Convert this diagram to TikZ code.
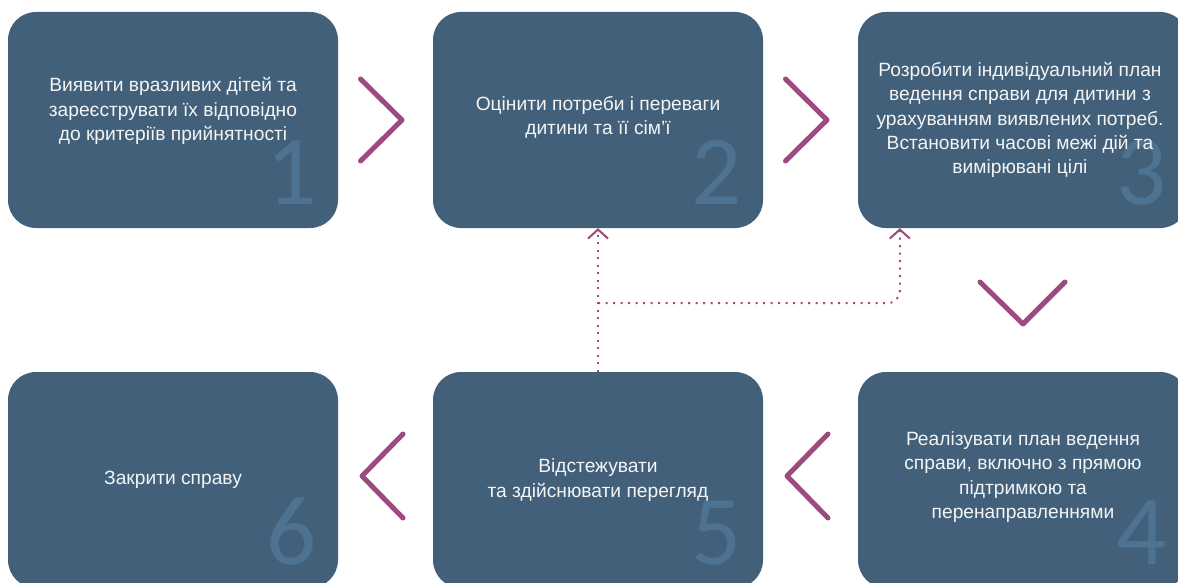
\documentclass[tikz,border=0pt]{standalone}
\usepackage{fontspec}
\setmainfont{Liberation Sans}
\newfontfamily\numfont{Carlito}
\usetikzlibrary{arrows.meta,calc}
\definecolor{boxblue}{HTML}{42607A}
\definecolor{numblue}{HTML}{4E7291}
\definecolor{plum}{HTML}{9C4A7F}
\definecolor{txtwhite}{HTML}{F4F4F4}
\begin{document}
\begin{tikzpicture}[x=1pt,y=-1pt,
  box/.style={rectangle, rounded corners=28pt, fill=boxblue, minimum width=330pt, minimum height=216pt, inner sep=0pt},
  txt/.style={text=txtwhite, align=center, font=\fontsize{19.2}{24.2}\selectfont, inner sep=0pt},
  num/.style={text=numblue, font=\numfont\fontsize{99}{99}\selectfont, anchor=base, inner sep=0pt, text depth=0pt},
  chev/.style={draw=plum, line width=5pt, line cap=round, line join=round},
  link/.style={draw=plum, line width=2pt, dash pattern=on 2pt off 5.5pt, -{Straight Barb[length=9pt,width=20pt]}}
]
\useasboundingbox (0,0) rectangle (1178,583);
\clip (0,0) rectangle (1178,583);
% boxes
\node[box] (b1) at (173,120) {};
\node[box] (b2) at (598,120) {};
\node[box] (b3) at (1023,120) {};
\node[box] (b6) at (173,480) {};
\node[box] (b5) at (598,480) {};
\node[box] (b4) at (1023,480) {};
% numbers
\node[num] (n1) at ($(b1.south east)+(-47,-24)$) {1};
\node[num] (n2) at ($(b2.south east)+(-47,-24)$) {2};
\node[num] (n3) at ($(b3.south east)+(-47,-24)$) {3};
\node[num] (n4) at ($(b4.south east)+(-47,-24)$) {4};
\node[num] (n5) at ($(b5.south east)+(-47,-24)$) {5};
\node[num] (n6) at ($(b6.south east)+(-47,-24)$) {6};
% texts
\node[txt] (t1) at ($(b1.center)+(0,-9)$) {Виявити вразливих дітей та\\зареєструвати їх відповідно\\до критеріїв прийнятності};
\node[txt] (t2) at ($(b2.center)+(0,-3)$) {Оцінити потреби і переваги\\дитини та її сім’ї};
\node[txt] (t3) at ($(b3.center)+(-3,0)$) {Розробити індивідуальний план\\ведення справи для дитини з\\урахуванням виявлених потреб.\\Встановити часові межі дій та\\вимірювані цілі};
\node[txt] (t4) at ($(b4.center)+(0,-3)$) {Реалізувати план ведення\\справи, включно з прямою\\підтримкою та\\перенаправленнями};
\node[txt] (t5) at ($(b5.center)+(0,0)$) {Відстежувати\\та здійснювати перегляд};
\node[txt] (t6) at ($(b6.center)+(0,0)$) {Закрити справу};
% chevrons
\coordinate (c12) at ($(b1.east)!0.5!(b2.west)$);
\coordinate (c23) at ($(b2.east)!0.5!(b3.west)$);
\coordinate (c34) at ($(b3.south)!0.5!(b4.north)$);
\coordinate (c45) at ($(b5.east)!0.5!(b4.west)$);
\coordinate (c56) at ($(b6.east)!0.5!(b5.west)$);
\draw[chev] ($(c12)+(-25,-41)$) -- ($(c12)+(16.5,0)$) -- ($(c12)+(-25,41)$);
\draw[chev] ($(c23)+(-25,-41)$) -- ($(c23)+(16.5,0)$) -- ($(c23)+(-25,41)$);
\draw[chev] ($(c34)+(-43,-18)$) -- ($(c34)+(0,24)$) -- ($(c34)+(42,-18)$);
\draw[chev] ($(c45)+(17.5,-46)$) -- ($(c45)+(-23.5,-4)$) -- ($(c45)+(17.5,38)$);
\draw[chev] ($(c56)+(17.5,-46)$) -- ($(c56)+(-23.5,-4)$) -- ($(c56)+(17.5,38)$);
% dotted links
\coordinate (j) at ($(b2.south)+(0,75)$);
\coordinate (a3) at ($(b3.south west)+(42,0)$);
\draw[link] (b5.north) -- (b2.south);
\draw[link, rounded corners=12pt] (j) -| (a3);
\end{tikzpicture}
\end{document}
